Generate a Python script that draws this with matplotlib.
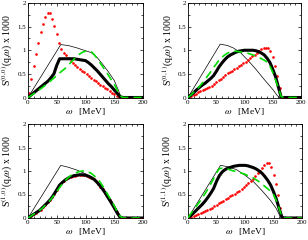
import numpy as np
import matplotlib
matplotlib.use("Agg")
import matplotlib.pyplot as plt
from matplotlib.ticker import MultipleLocator, FormatStrFormatter

plt.rcParams['font.family'] = ['Liberation Serif', 'DejaVu Serif']
plt.rcParams['mathtext.fontset'] = 'stix'

# omega grids (MeV)
w_line = np.arange(0, 201, 5)
w_red = np.arange(2, 200, 4)
z7 = [0.0] * 7     # 170..200 for line data
z9 = [0.0] * 9     # 166..198 for red data

# panel (0,0)
thin_w_00 = [0, 57, 70, 85, 100, 110, 120, 130, 140, 150, 157, 162, 200]
thin_00 = [0, 1.12, 1.10, 1.05, 0.99, 0.95, 0.85, 0.70, 0.54, 0.36, 0.16, 0, 0]
thick_00 = [0, 0.05, 0.10, 0.15, 0.20, 0.25, 0.30, 0.35, 0.42, 0.50, 0.68, 0.82,
            0.82, 0.82, 0.82, 0.82, 0.82, 0.81, 0.80, 0.79, 0.78, 0.74, 0.69, 0.63,
            0.57, 0.50, 0.43, 0.36, 0.29, 0.23, 0.16, 0.09, 0.02, 0] + z7
green_00 = [0, 0.04, 0.08, 0.12, 0.17, 0.21, 0.26, 0.31, 0.36, 0.41, 0.47, 0.52,
            0.57, 0.62, 0.68, 0.75, 0.81, 0.87, 0.92, 0.96, 0.98, 0.98, 0.97, 0.91,
            0.83, 0.74, 0.65, 0.56, 0.47, 0.37, 0.28, 0.16, 0.04, 0] + z7
red_00 = [0.10, 0.40, 0.67, 0.92, 1.16, 1.38, 1.56, 1.70, 1.78, 1.78, 1.67, 1.52,
          1.35, 1.16, 1.02, 0.95, 0.89, 0.83, 0.78, 0.73, 0.69, 0.65, 0.61, 0.57,
          0.53, 0.49, 0.45, 0.42, 0.38, 0.35, 0.31, 0.27, 0.24, 0.20, 0.17, 0.13,
          0.10, 0.07, 0.04, 0.02, 0.01] + z9

# panel (0,1)
thin_w_01 = [0, 57, 70, 80, 92, 105, 120, 135, 150, 158, 162, 200]
thin_01 = [0, 1.13, 1.10, 1.05, 0.96, 0.80, 0.60, 0.38, 0.17, 0.04, 0, 0]
thick_01 = [0, 0.05, 0.10, 0.16, 0.21, 0.26, 0.30, 0.35, 0.40, 0.46, 0.55, 0.65,
            0.73, 0.80, 0.86, 0.90, 0.93, 0.96, 0.98, 0.99, 1.00, 1.00, 1.00, 1.00,
            0.99, 0.97, 0.94, 0.90, 0.83, 0.74, 0.60, 0.44, 0.22, 0] + z7
green_01 = [0, 0.05, 0.11, 0.17, 0.23, 0.30, 0.38, 0.46, 0.54, 0.63, 0.71, 0.79,
            0.85, 0.90, 0.94, 0.96, 0.97, 0.98, 0.97, 0.96, 0.95, 0.94, 0.92, 0.90,
            0.88, 0.85, 0.82, 0.79, 0.75, 0.67, 0.53, 0.37, 0.20, 0.02] + z7
red_01 = [0.01, 0.03, 0.06, 0.08, 0.11, 0.13, 0.15, 0.18, 0.20, 0.23, 0.25, 0.28,
          0.32, 0.36, 0.40, 0.44, 0.47, 0.51, 0.54, 0.57, 0.60, 0.63, 0.66, 0.69,
          0.72, 0.75, 0.79, 0.83, 0.87, 0.91, 0.95, 0.99, 1.02, 1.04, 1.05, 1.05,
          0.98, 0.86, 0.67, 0.45, 0.20] + z9

# panel (1,0)
thin_w_10 = [0, 57, 70, 85, 100, 115, 130, 145, 158, 162, 200]
thin_10 = [0, 1.12, 1.08, 1.02, 0.94, 0.82, 0.63, 0.38, 0.10, 0, 0]
thick_10 = [0, 0.04, 0.08, 0.12, 0.16, 0.22, 0.28, 0.34, 0.41, 0.50, 0.60, 0.70,
            0.76, 0.81, 0.85, 0.88, 0.90, 0.91, 0.92, 0.92, 0.91, 0.89, 0.86, 0.82,
            0.76, 0.69, 0.61, 0.52, 0.42, 0.32, 0.22, 0.11, 0.02, 0] + z7
green_10 = [0, 0.04, 0.08, 0.12, 0.16, 0.21, 0.27, 0.33, 0.40, 0.48, 0.56, 0.65,
            0.73, 0.80, 0.86, 0.91, 0.95, 0.97, 0.99, 1.00, 1.00, 0.98, 0.95, 0.90,
            0.84, 0.77, 0.68, 0.58, 0.47, 0.37, 0.26, 0.14, 0.04, 0] + z7
red_10 = [0.02, 0.05, 0.08, 0.11, 0.14, 0.18, 0.23, 0.28, 0.33, 0.38, 0.44, 0.52,
          0.60, 0.68, 0.74, 0.78, 0.82, 0.85, 0.87, 0.89, 0.90, 0.91, 0.92, 0.92,
          0.91, 0.90, 0.88, 0.86, 0.83, 0.78, 0.73, 0.67, 0.61, 0.54, 0.46, 0.38,
          0.30, 0.22, 0.13, 0.05, 0.0] + z9

# panel (1,1)
thin_w_11 = [0, 57, 70, 85, 100, 115, 130, 145, 155, 162, 200]
thin_11 = [0, 1.12, 1.09, 1.03, 0.91, 0.77, 0.58, 0.37, 0.20, 0.02, 0]
thick_11 = [0, 0.05, 0.11, 0.17, 0.23, 0.29, 0.36, 0.44, 0.53, 0.63, 0.78, 0.90,
            0.98, 1.03, 1.06, 1.08, 1.10, 1.11, 1.12, 1.12, 1.12, 1.11, 1.09, 1.07,
            1.04, 1.00, 0.95, 0.88, 0.80, 0.70, 0.56, 0.40, 0.20, 0.01] + z7
green_11 = [0, 0.09, 0.18, 0.26, 0.34, 0.43, 0.52, 0.62, 0.73, 0.84, 0.96, 1.05,
            1.06, 1.05, 1.04, 1.02, 1.00, 0.99, 0.97, 0.95, 0.93, 0.90, 0.88, 0.85,
            0.81, 0.77, 0.72, 0.67, 0.62, 0.57, 0.50, 0.37, 0.20, 0.02] + z7
red_11 = [0.01, 0.03, 0.05, 0.07, 0.08, 0.10, 0.12, 0.14, 0.17, 0.20, 0.22, 0.25,
          0.28, 0.31, 0.34, 0.37, 0.40, 0.43, 0.46, 0.49, 0.52, 0.55, 0.58, 0.62,
          0.66, 0.70, 0.74, 0.79, 0.84, 0.89, 0.95, 1.01, 1.07, 1.13, 1.18, 1.18,
          1.08, 0.92, 0.72, 0.48, 0.22] + z9

panels = [
    ("(0,0)", thin_w_00, thin_00, thick_00, green_00, red_00),
    ("(0,1)", thin_w_01, thin_01, thick_01, green_01, red_01),
    ("(1,0)", thin_w_10, thin_10, thick_10, green_10, red_10),
    ("(1,1)", thin_w_11, thin_11, thick_11, green_11, red_11),
]

fig = plt.figure(figsize=(3.08, 2.40), dpi=100)
W, H = 308, 240
boxes = [(28, 3, 115, 94.5), (188, 3, 113, 94.5),
         (28, 124, 115, 94), (188, 124, 114, 94)]

for (lab, tw, thin, thick, green, red), (x0, y0, bw, bh) in zip(panels, boxes):
    ax = fig.add_axes([x0 / W, 1 - (y0 + bh) / H, bw / W, bh / H])
    ax.plot(tw, thin, color='black', lw=0.5)
    ax.plot(w_red, red, 'o', color='red', ms=1.9, mec='none', zorder=2)
    ax.plot(w_line, thick, color='black', lw=2.2, zorder=3)
    ax.plot(w_line, green, color='#00dd00', lw=1.2, ls=(0, (5, 3)), zorder=4)
    ax.set_xlim(0, 200)
    ax.set_ylim(0, 2)
    ax.xaxis.set_major_locator(MultipleLocator(50))
    ax.xaxis.set_minor_locator(MultipleLocator(10))
    ax.yaxis.set_major_locator(MultipleLocator(0.5))
    ax.yaxis.set_minor_locator(MultipleLocator(0.25))
    ax.yaxis.set_major_formatter(FormatStrFormatter('%g'))
    ax.tick_params(which='both', direction='in', top=True, right=True,
                   labelsize=5, pad=1.5, width=0.5)
    ax.tick_params(which='major', length=2.5)
    ax.tick_params(which='minor', length=1.3)
    for s in ax.spines.values():
        s.set_linewidth(0.6)
    ax.set_xlabel(r'$\omega$   [MeV]', fontsize=6.8, labelpad=0)
    ax.set_ylabel(r'S$^{' + lab + r'}$(q,$\omega$) x 1000', fontsize=7)
    ax.xaxis.set_label_coords(0.5, -0.09)
    ax.yaxis.set_label_coords(-0.11, 0.5)

fig.savefig('out.png', dpi=100)
